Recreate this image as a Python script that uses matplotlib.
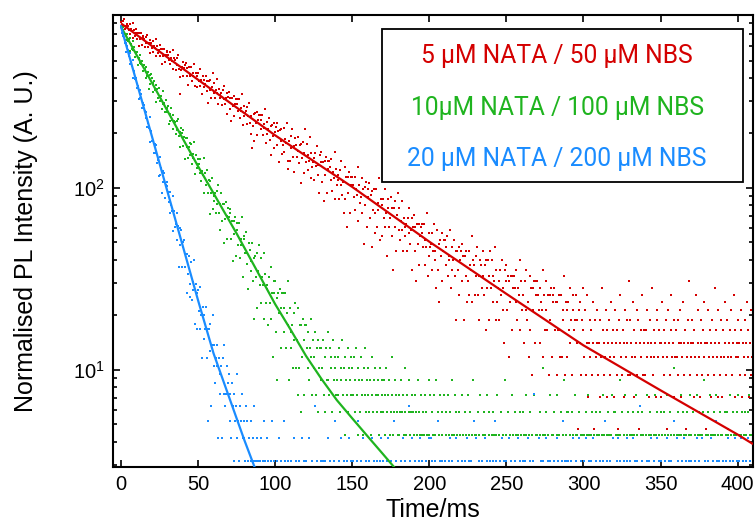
import numpy as np
import matplotlib
matplotlib.use("Agg")
import matplotlib.pyplot as plt
from matplotlib.patches import Rectangle
from matplotlib.ticker import LogLocator, NullFormatter, FuncFormatter, MultipleLocator

#%% ------------------------------- ###
###              Data               ###
### ------------------------------- ###

bin_ms = 0.5  # width of one time bin

# photon counts per bin (0.5 ms bins, starting at t = 0)
red_counts = [
    346,318,350,330,360,317,329,295,340,328,312,337,298,317,309,344,282,315,292,300,
    318,280,301,256,301,281,302,260,284,292,281,254,286,266,295,253,266,233,276,265,
    250,274,238,255,248,280,225,255,234,242,260,224,245,203,245,226,247,208,229,239,
    237,228,214,237,203,219,212,243,190,220,213,189,219,201,227,190,140,172,189,195,
    209,175,194,202,207,176,194,156,195,178,175,197,165,181,174,204,154,182,176,153,
    181,165,190,155,166,139,176,167,152,159,176,145,164,125,164,147,166,132,152,181,
    141,161,132,147,142,169,123,148,132,138,141,121,146,131,154,122,132,108,142,134,
    143,115,133,99,133,119,136,105,123,130,131,123,112,131,103,117,113,139,94,119,
    105,110,113,95,118,105,125,97,106,84,70,93,108,77,110,96,111,83,100,107,
    107,100,90,107,83,95,91,115,75,98,84,89,103,78,93,64,94,82,97,70,
    86,92,96,73,87,59,88,77,90,65,73,91,67,79,75,97,60,54,77,60,
    82,70,89,63,72,52,80,73,63,68,81,58,73,45,74,62,76,51,66,89,
    59,74,53,64,60,81,48,66,55,59,62,47,66,56,72,50,57,40,64,59,
    67,46,59,36,60,50,63,40,54,60,60,55,47,61,41,52,48,67,37,54,
    44,47,50,37,53,44,60,39,46,31,55,37,49,26,49,40,52,31,44,49,
    49,44,38,49,32,42,39,55,28,44,35,38,48,31,42,21,43,34,46,26,
    38,42,45,29,39,20,41,32,42,24,31,42,26,35,32,48,22,37,34,23,
    37,29,42,26,31,18,37,33,26,29,38,23,33,15,33,26,36,19,30,40,
    25,33,22,28,25,36,19,29,23,26,27,19,29,24,33,21,25,15,29,26,
    30,19,26,13,27,21,27,16,23,26,27,24,20,27,16,22,20,31,14,24,
    18,20,21,15,24,19,27,17,19,12,25,15,21,10,22,18,24,13,19,22,
    22,20,16,23,14,18,17,25,12,20,15,17,22,14,19,8,19,15,20,11,
    17,19,21,13,18,8,18,14,19,10,13,19,11,16,15,23,10,17,16,11,
    18,14,20,11,14,8,17,16,12,14,19,11,16,7,17,12,17,8,14,19,
    12,17,10,14,13,20,8,15,10,12,13,8,15,11,17,9,12,6,15,13,
    16,9,14,5,13,10,14,7,12,14,14,12,10,15,8,12,11,17,7,13,
    9,11,11,6,13,9,15,8,10,5,14,7,12,4,12,9,13,6,11,13,
    13,11,9,12,6,10,9,15,5,11,7,9,13,7,11,4,11,8,12,5,
    10,11,12,7,10,4,10,7,11,5,7,11,5,9,8,14,4,10,9,5,
    10,7,12,6,8,4,11,9,7,8,11,6,8,2,9,6,10,4,8,12,
    7,5,9,4,6,11,3,6,8,5,7,4,10,6,2,8,5,6,9,4,
    6,8,3,5,12,7,4,6,5,9,3,7,6,8,5,4,10,6,7,3,
    5,9,6,4,7,2,8,6,11,5,4,7,6,3,9,5,8,6,4,13,
    8,4,6,5,10,7,3,5,6,9,4,8,2,6,7,5,11,4,6,7,
    4,7,5,9,6,3,8,6,5,12,4,7,5,6,3,8,9,5,7,6,
    6,3,10,5,7,4,6,8,2,5,9,6,4,7,11,5,6,3,8,5,
    7,5,4,8,6,9,3,6,5,10,4,6,7,2,5,8,6,13,4,6,
    5,8,6,3,7,5,11,4,6,9,5,3,8,6,4,7,5,10,6,2,
    6,4,9,5,7,3,6,8,5,4,12,6,7,5,3,9,6,4,8,5,
    3,7,5,6,10,4,8,5,2,6,7,9,5,4,6,11,3,7,5,6,
    8,5,6,4,7,9,3,6,5,8,4,6,10,5,7,3,6,4,9,5,
]

green_counts = [
    525,504,521,468,533,479,477,443,481,439,449,454,388,420,394,438,391,407,358,383,
    377,381,324,352,330,368,328,342,299,321,325,308,275,314,282,297,240,284,253,288,
    273,258,231,263,237,250,203,238,213,242,218,206,220,186,234,198,199,178,207,179,
    189,192,154,174,160,188,161,173,144,160,157,136,159,143,164,131,139,114,146,137,
    142,116,130,99,128,114,128,100,114,120,103,119,93,105,100,122,81,103,88,92,
    99,93,83,98,75,85,80,100,64,83,71,74,86,64,76,49,75,64,77,52,
    58,62,64,50,66,56,71,50,56,40,64,45,56,34,56,46,57,36,48,53,
    47,50,52,36,45,27,45,38,47,29,44,40,33,44,28,36,33,47,22,37,
    36,30,39,26,30,19,34,31,24,27,34,21,28,13,29,22,30,15,24,33,
    20,28,16,22,20,30,13,23,16,19,20,12,22,16,25,13,18,8,21,18,
    21,11,17,6,18,14,19,9,15,18,18,15,11,18,9,14,12,21,6,15,
    9,11,12,7,14,10,16,7,10,5,15,7,12,4,12,8,13,5,10,12,
    12,9,7,11,6,9,8,13,5,10,7,8,11,5,9,4,10,7,9,6,
    9,7,10,5,8,4,9,6,11,6,5,9,7,8,4,10,6,8,7,5,
    6,8,5,9,4,7,6,10,5,7,3,8,6,5,9,4,7,6,8,5,
    7,5,8,4,6,9,5,3,7,6,4,8,5,6,3,7,5,9,4,6,
    5,7,4,6,3,8,5,4,6,2,7,5,4,6,5,3,7,4,5,6,
    4,6,3,5,7,4,2,5,6,3,4,5,8,3,4,6,2,5,4,3,
    5,3,4,6,2,4,5,3,7,4,3,5,2,4,6,3,4,2,5,4,
    3,5,2,4,3,6,4,2,3,5,3,1,4,3,5,2,4,3,2,6,
    3,5,2,4,1,3,5,2,3,6,2,4,3,1,5,2,3,4,2,5,
    2,4,3,1,5,3,2,4,2,3,6,1,3,5,2,4,3,2,1,4,
    3,2,5,1,3,2,4,3,0,2,5,3,2,4,1,3,2,6,2,3,
    2,3,1,4,2,3,5,2,1,3,2,4,3,0,2,5,1,3,4,2,
    1,3,2,4,3,2,0,3,5,2,1,3,2,4,2,3,1,2,6,3,
    3,2,4,1,2,3,2,5,3,1,2,4,3,2,0,3,2,4,1,3,
    2,4,1,3,2,5,3,2,1,3,4,2,0,3,2,1,5,2,3,2,
    3,1,2,4,3,2,1,3,7,2,3,1,4,2,3,2,5,1,2,3,
    2,3,4,1,2,3,5,2,3,1,2,4,2,3,1,6,2,3,2,4,
    4,2,1,3,2,4,3,1,2,5,3,2,3,1,4,2,0,3,2,3,
    1,3,2,4,3,2,5,3,1,2,3,4,2,1,3,2,4,3,2,1,
    3,2,4,1,3,5,2,3,2,0,3,2,4,3,1,2,3,5,2,4,
    2,4,3,2,1,3,2,6,3,2,4,1,2,3,5,2,1,3,4,2,
    3,1,2,3,4,2,3,1,5,3,2,4,2,1,3,2,4,3,0,2,
    2,3,5,2,1,3,4,2,3,2,1,3,2,5,3,4,2,1,3,2,
    4,2,3,1,2,4,3,2,5,1,3,2,4,2,3,1,2,7,3,2,
    2,3,1,4,3,2,5,3,2,4,1,3,2,3,4,2,1,3,5,2,
    3,2,4,2,1,3,2,5,3,2,4,3,1,2,3,4,2,6,2,3,
    1,4,3,2,5,2,3,1,3,4,2,3,5,1,2,3,2,4,3,2,
    3,2,1,4,2,3,4,2,3,1,5,2,3,2,4,3,1,2,3,4,
    2,5,3,2,3,1,4,2,3,4,2,3,1,4,2,5,3,2,3,2,
]

blue_counts = [
    738,677,700,652,672,594,594,531,574,542,504,524,456,467,443,479,383,417,375,374,
    384,335,346,291,327,298,311,261,277,278,271,253,230,249,205,217,204,233,169,196,
    173,173,171,147,166,147,164,131,136,111,141,112,123,89,118,102,115,84,98,102,
    97,90,79,90,69,77,71,86,55,71,58,60,69,49,59,35,57,46,56,35,
    45,48,49,35,41,25,41,32,40,24,28,37,23,29,26,38,17,28,25,16,
    26,20,27,16,19,11,21,19,14,16,21,11,16,5,16,12,17,6,13,19,
    10,13,8,11,10,13,4,11,7,9,10,4,11,7,13,6,7,1,10,8,
    9,5,7,4,8,6,3,7,5,6,9,4,5,3,6,5,2,7,4,5,
    4,3,6,2,5,3,4,1,3,5,2,4,3,6,2,3,4,1,3,2,
    3,2,4,1,3,5,2,3,1,2,4,3,2,0,3,2,5,1,2,3,
    2,1,3,2,0,4,2,1,3,2,1,5,2,3,1,2,0,3,2,1,
    1,3,2,0,2,4,1,3,2,1,2,3,0,2,1,4,2,3,1,2,
    3,2,1,2,4,1,2,0,3,2,1,2,6,1,3,2,2,1,0,3,
    2,0,3,1,2,3,1,2,4,2,1,3,2,0,1,2,3,5,2,1,
    1,2,2,3,0,1,4,2,1,3,2,0,2,3,1,2,4,1,3,2,
    2,3,1,0,2,2,3,1,5,2,1,3,2,1,4,2,0,2,3,1,
    0,2,3,1,2,4,1,2,3,0,2,1,3,2,2,1,3,4,1,2,
    3,1,2,2,0,3,1,4,2,1,3,2,0,2,5,1,2,3,1,2,
    2,2,1,3,2,0,4,1,2,3,1,2,2,6,0,3,1,2,4,1,
    1,3,2,0,1,2,3,2,4,1,2,3,1,2,0,2,3,1,2,4,
    2,1,4,2,3,1,0,2,3,2,1,5,2,1,3,2,0,3,1,2,
    3,2,0,1,2,3,2,4,1,2,3,1,2,0,2,4,1,3,2,1,
    1,2,3,2,1,0,3,2,1,4,2,3,1,2,3,0,2,1,5,2,
    2,4,1,2,3,1,2,0,3,2,1,2,4,1,2,3,2,1,0,3,
    0,2,3,1,2,5,1,3,2,1,2,0,3,2,4,1,2,3,1,2,
    3,1,2,4,0,2,3,1,2,2,1,3,2,0,1,4,2,3,2,1,
    2,3,1,2,3,1,0,2,4,2,1,3,1,2,3,2,7,1,2,0,
    1,2,4,0,2,3,1,2,3,1,2,4,2,1,3,0,2,3,1,2,
    2,1,3,2,1,2,4,3,0,2,1,2,3,5,1,2,3,1,2,3,
    3,2,1,0,3,2,1,4,2,1,3,2,0,2,4,1,2,3,2,1,
    1,3,2,4,1,0,2,3,1,2,3,2,1,4,2,0,3,1,2,2,
    2,1,3,2,0,3,2,1,5,2,1,3,2,2,1,3,0,2,4,1,
    0,2,1,3,2,4,1,2,3,1,2,0,3,2,1,2,4,3,1,2,
    3,2,2,1,4,2,0,3,1,2,3,1,2,6,2,1,3,0,2,1,
    2,1,3,2,1,3,2,4,0,2,1,3,2,1,2,4,1,2,3,2,
    1,3,2,0,2,1,3,2,4,1,2,3,0,2,3,1,2,5,1,2,
    2,4,1,3,2,2,0,1,3,2,4,1,2,3,1,2,0,3,2,1,
    3,1,2,2,0,3,1,4,2,1,3,2,1,2,4,0,2,1,3,2,
    1,2,3,1,2,4,2,0,3,2,1,2,5,3,1,2,3,1,0,2,
    2,3,0,2,1,3,2,4,1,2,3,1,2,0,3,2,1,4,2,3,
    1,2,3,2,4,0,2,3,1,2,1,3,2,4,2,1,3,0,2,2,
]

# normalisation (intensity per count)
red_scale = 2.35
green_scale = 1.46
blue_scale = 1.05

# fitted decays
red_fit_t = [0, 50, 100, 150, 200, 250, 300, 350, 400, 410]
red_fit_v = [800, 392, 194, 101, 50.5, 26.1, 13.6, 7.7, 4.4, 3.9]
green_fit_t = [0, 25, 50, 75, 100, 110, 120, 130, 140, 150, 160, 170, 180]
green_fit_v = [766, 317, 131, 56, 22.9, 16.6, 11.9, 8.9, 6.8, 5.4, 4.3, 3.43, 2.73]
blue_fit_t = [0, 10, 20, 30, 40, 50, 60, 70, 80, 90]
blue_fit_v = [766, 383, 192, 96, 48, 24, 12.3, 7.1, 4.1, 2.45]

labels = ['5 \u03bcM NATA / 50 \u03bcM NBS',
          '10\u03bcM NATA / 100 \u03bcM NBS',
          '20 \u03bcM NATA / 200 \u03bcM NBS']
colours = ['#d40000', '#1fb41f', '#1a8cff']

#%% ------------------------------- ###
###              Plot               ###
### ------------------------------- ###

plt.rcParams['font.family'] = ['Liberation Sans', 'DejaVu Sans']
plt.rcParams['mathtext.fontset'] = 'custom'
plt.rcParams['mathtext.rm'] = 'Liberation Sans'
plt.rcParams['mathtext.default'] = 'regular'

fig = plt.figure(figsize=(7.55, 5.24), dpi=100)
ax = fig.add_axes([0.1497, 0.1094, 0.8477, 0.8620])

series = [(red_counts, red_scale, red_fit_t, red_fit_v),
          (green_counts, green_scale, green_fit_t, green_fit_v),
          (blue_counts, blue_scale, blue_fit_t, blue_fit_v)]

for (counts, scale, ft, fv), c in zip(series, colours):
    counts = np.array(counts, dtype=float)
    t = np.arange(len(counts)) * bin_ms
    keep = counts > 0
    ax.plot(t[keep], counts[keep] * scale, ls='none', marker='s', ms=2.0, mew=0,
            color=c, zorder=2)

for (counts, scale, ft, fv), c in zip(series, colours):
    ax.plot(ft, fv, color=c, lw=1.6, zorder=3, solid_capstyle='butt')

ax.set_yscale('log')
ax.set_xlim(-5.2, 410)
ax.set_ylim(2.93, 890)

ax.xaxis.set_major_locator(MultipleLocator(50))
ax.yaxis.set_major_locator(LogLocator(base=10))
ax.yaxis.set_minor_locator(LogLocator(base=10, subs=np.arange(2, 10)))
ax.yaxis.set_minor_formatter(NullFormatter())
ax.yaxis.set_major_formatter(FuncFormatter(lambda v, p: r'$10^{%d}$' % round(np.log10(v))))

ax.tick_params(which='both', direction='in', top=True, right=True, labelsize=14.5, width=1.2)
ax.tick_params(which='major', length=5, pad=6)
ax.tick_params(which='minor', length=3)
for s in ax.spines.values():
    s.set_linewidth(1.5)

ax.set_xlabel('Time/ms', fontsize=18, labelpad=3)
ax.set_ylabel('Normalised PL Intensity (A. U.)', fontsize=18)
ax.yaxis.set_label_coords(-0.118, 0.5)

# legend box
ax.add_patch(Rectangle((0.4198, 0.631), 0.564, 0.337, transform=ax.transAxes,
                       facecolor='white', edgecolor='black', lw=1.3, zorder=5))
for lab, c, y in zip(labels, colours, [0.894, 0.779, 0.665]):
    ax.text(0.694, y, lab, color=c, fontsize=17.7, family=['Roboto', 'DejaVu Sans'],
            ha='center', va='baseline', transform=ax.transAxes, zorder=6)

fig.savefig('out.png', dpi=100)
